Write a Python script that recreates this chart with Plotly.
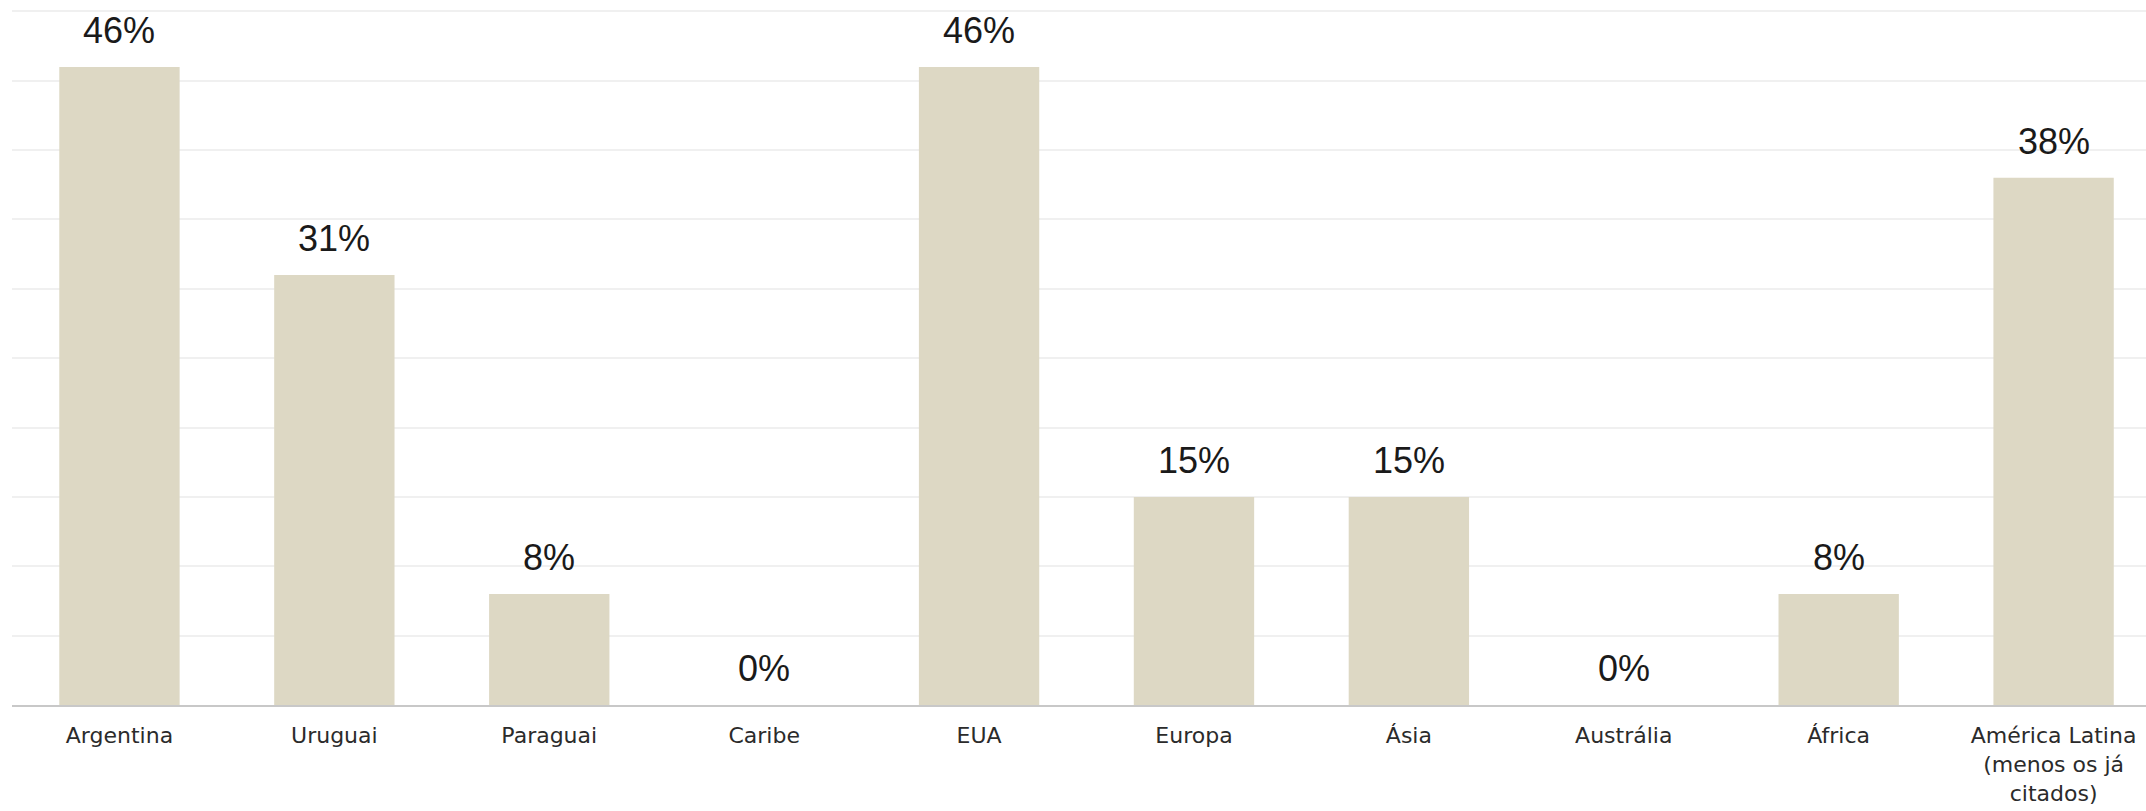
import plotly.graph_objects as go

categories = ["Argentina", "Uruguai", "Paraguai", "Caribe", "EUA", "Europa", "Ásia",
              "Austrália", "África", "América Latina<br>(menos os já<br>citados)"]
values = [46, 31, 8, 0, 46, 15, 15, 0, 8, 38]
labels = [f"{v}%" for v in values]

fig = go.Figure()
fig.add_trace(go.Bar(
    x=list(range(len(categories))), y=values,
    marker=dict(color="#DDD8C4", line=dict(width=0)),
    hoverinfo="skip",
))
for i, (v, t) in enumerate(zip(values, labels)):
    fig.add_annotation(x=i, y=v, text=t, showarrow=False, yanchor="bottom",
                       yshift=14, font=dict(family="Liberation Sans, Arial, sans-serif",
                                            size=36, color="#1a1a1a"))

fig.update_layout(
    width=2146, height=811,
    margin=dict(l=12, r=0, t=10, b=106),
    paper_bgcolor="white", plot_bgcolor="white",
    bargap=0.44, showlegend=False,
    xaxis=dict(tickmode="array", tickvals=list(range(len(categories))), ticktext=categories,
               range=[-0.5, 9.43], showgrid=False, showline=True, linecolor="#c8c8c8",
               linewidth=2, ticks="", zeroline=False, automargin=False,
               ticklabelstandoff=10,
               tickfont=dict(family="DejaVu Sans, Verdana, sans-serif", size=22, color="#2b2b2b")),
    yaxis=dict(range=[0, 50.1], tickmode="linear", tick0=0, dtick=5, showgrid=True,
               gridcolor="#f0f0f0", gridwidth=1.5,
               showticklabels=False, zeroline=False, showline=False, automargin=False),
)
fig.write_html("out.html", config={"displayModeBar": False},
               post_script="document.body.style.margin='0px';document.body.style.overflow='hidden';")
